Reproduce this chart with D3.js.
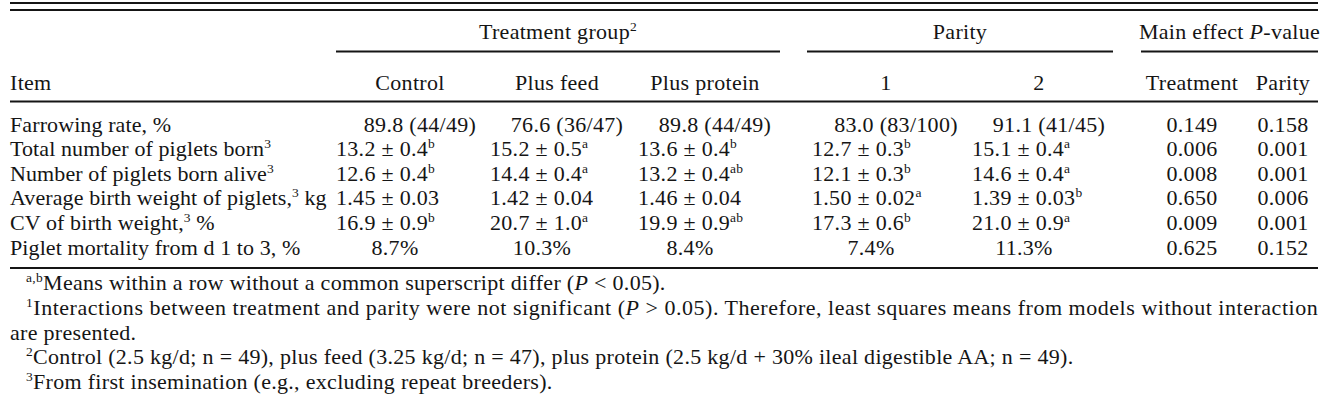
<!DOCTYPE html>
<html><head><meta charset="utf-8">
<script src="https://cdn.jsdelivr.net/npm/d3@7"></script>
<style>
body{margin:0;background:#fff}
svg{display:block}
text{font-family:"Liberation Serif","Tinos","DejaVu Serif",serif;fill:#151515;letter-spacing:0.3px}
text.item{letter-spacing:0.1px}
</style>
</head><body>
<svg id="chart" width="1323" height="408"></svg>
<script>
// ---------- data ----------
const items = ["Farrowing rate, %", "Total number of piglets born", "Number of piglets born alive",
  "Average birth weight of piglets,", "CV of birth weight,", "Piglet mortality from d 1 to 3, %"];
const itemSup = ["", "3", "3", "3", "3", ""];
const itemTail = ["", "", "", " kg", " %", ""];
const rowKind = ["frac", "pm", "pm", "pm", "pm", "pct"];

const control = ["89.8 (44/49)", "13.2 ± 0.4", "12.6 ± 0.4", "1.45 ± 0.03", "16.9 ± 0.9", "8.7%"];
const controlSup = ["", "b", "b", "", "b", ""];
const plusFeed = ["76.6 (36/47)", "15.2 ± 0.5", "14.4 ± 0.4", "1.42 ± 0.04", "20.7 ± 1.0", "10.3%"];
const plusFeedSup = ["", "a", "a", "", "a", ""];
const plusProtein = ["89.8 (44/49)", "13.6 ± 0.4", "13.2 ± 0.4", "1.46 ± 0.04", "19.9 ± 0.9", "8.4%"];
const plusProteinSup = ["", "b", "ab", "", "ab", ""];
const parity1 = ["83.0 (83/100)", "12.7 ± 0.3", "12.1 ± 0.3", "1.50 ± 0.02", "17.3 ± 0.6", "7.4%"];
const parity1Sup = ["", "b", "b", "a", "b", ""];
const parity2 = ["91.1 (41/45)", "15.1 ± 0.4", "14.6 ± 0.4", "1.39 ± 0.03", "21.0 ± 0.9", "11.3%"];
const parity2Sup = ["", "a", "a", "b", "a", ""];
const pTreatment = ["0.149", "0.006", "0.008", "0.650", "0.009", "0.625"];
const pParity = ["0.158", "0.001", "0.001", "0.006", "0.001", "0.152"];

const columns = ["Control", "Plus feed", "Plus protein", "1", "2", "Treatment", "Parity"];
const spanners = [
  {label: "Treatment group", sup: "2", cols: ["Control", "Plus protein"]},
  {label: "Parity", sup: "", cols: ["1", "2"]},
  {label: "Main effect ", italic: "P", after: "-value", cols: ["Treatment", "Parity"]}
];

// ---------- layout ----------
const fs = 22, supFs = 13.5;
const left = 10, right = 1318;
const colX = d3.scaleOrdinal().domain(columns).range([410, 557, 705, 886, 1039, 1192, 1283]);
const pmStart = d3.scaleOrdinal().domain(columns).range([-74, -67, -67, -74, -67, 0, 0]);
const spanRange = [[336, 780], [807, 1113], [1141, 1318]];
const rowY = d3.scaleLinear().domain([0, 1]).range([131.5, 156.1]);

const svg = d3.select("#chart");

function rich(t, base, sup, tail) {
  t.append("tspan").text(base);
  if (sup) {
    t.append("tspan").attr("font-size", supFs).attr("dy", -8).text(sup);
    if (tail) t.append("tspan").attr("dy", 8).text(tail);
  } else if (tail) {
    t.append("tspan").text(tail);
  }
  return t;
}

function rule(y, x1, x2, w) {
  svg.append("line").attr("x1", x1).attr("x2", x2).attr("y1", y).attr("y2", y)
    .attr("stroke", "#151515").attr("stroke-width", w);
}

// rules
rule(3, left, right, 1.8);
rule(10, left, right, 1.8);
rule(101.5, left, right, 1.8);
rule(268, left, right, 1.8);

// spanners
spanners.forEach((s, i) => {
  const [a, b] = spanRange[i];
  rule(51.5, a, b, 1.8);
  const t = svg.append("text").attr("x", (a + b) / 2).attr("y", 39)
    .attr("text-anchor", "middle").attr("font-size", fs);
  if (s.italic) {
    t.append("tspan").text(s.label);
    t.append("tspan").attr("font-style", "italic").text(s.italic);
    t.append("tspan").text(s.after);
  } else {
    rich(t, s.label, s.sup, "");
  }
});

// column headers
svg.append("text").attr("x", left).attr("y", 90).attr("font-size", fs).text("Item");
columns.forEach(c => {
  svg.append("text").attr("x", colX(c)).attr("y", 90).attr("text-anchor", "middle")
    .attr("font-size", fs).text(c);
});

// body
const series = [
  [control, controlSup], [plusFeed, plusFeedSup], [plusProtein, plusProteinSup],
  [parity1, parity1Sup], [parity2, parity2Sup], [pTreatment, null], [pParity, null]
];

items.forEach((it, r) => {
  const y = rowY(r);
  rich(svg.append("text").attr("class", "item").attr("x", left).attr("y", y).attr("font-size", fs),
    it, itemSup[r], itemTail[r]);
  series.forEach(([vals, sups], ci) => {
    const c = columns[ci];
    const t = svg.append("text").attr("y", y).attr("font-size", fs);
    if (!sups) {
      t.attr("x", colX(c)).attr("text-anchor", "middle").text(vals[r]);
      return;
    }
    const kind = rowKind[r];
    if (kind === "pm") {
      t.attr("x", colX(c) + pmStart(c)).attr("text-anchor", "start");
    } else if (kind === "frac") {
      t.attr("x", colX(c) + 10).attr("text-anchor", "middle");
    } else {
      t.attr("x", colX(c) - 15).attr("text-anchor", "middle");
    }
    rich(t, vals[r], sups[r], "");
  });
});

// footnotes
const fy = d3.scaleLinear().domain([0, 1]).range([290, 314.8]);
const indent = 26;
let t;
t = svg.append("text").attr("x", indent).attr("y", fy(0)).attr("font-size", fs);
t.append("tspan").attr("font-size", supFs).attr("dy", -8).text("a,b");
t.append("tspan").attr("dy", 8).text("Means within a row without a common superscript differ (");
t.append("tspan").attr("font-style", "italic").text("P");
t.append("tspan").text(" < 0.05).");

t = svg.append("text").attr("x", indent).attr("y", fy(1)).attr("font-size", fs)
  .attr("textLength", right - indent).attr("lengthAdjust", "spacing");
t.append("tspan").attr("font-size", supFs).attr("dy", -8).text("1");
t.append("tspan").attr("dy", 8).text("Interactions between treatment and parity were not significant (");
t.append("tspan").attr("font-style", "italic").text("P");
t.append("tspan").text(" > 0.05). Therefore, least squares means from models without interaction");

svg.append("text").attr("x", left).attr("y", fy(2)).attr("font-size", fs).text("are presented.");

t = svg.append("text").attr("x", indent).attr("y", fy(3)).attr("font-size", fs);
t.append("tspan").attr("font-size", supFs).attr("dy", -8).text("2");
t.append("tspan").attr("dy", 8).text("Control (2.5 kg/d; n = 49), plus feed (3.25 kg/d; n = 47), plus protein (2.5 kg/d + 30% ileal digestible AA; n = 49).");

t = svg.append("text").attr("x", indent).attr("y", fy(4)).attr("font-size", fs);
t.append("tspan").attr("font-size", supFs).attr("dy", -8).text("3");
t.append("tspan").attr("dy", 8).text("From first insemination (e.g., excluding repeat breeders).");
</script>
</body></html>
